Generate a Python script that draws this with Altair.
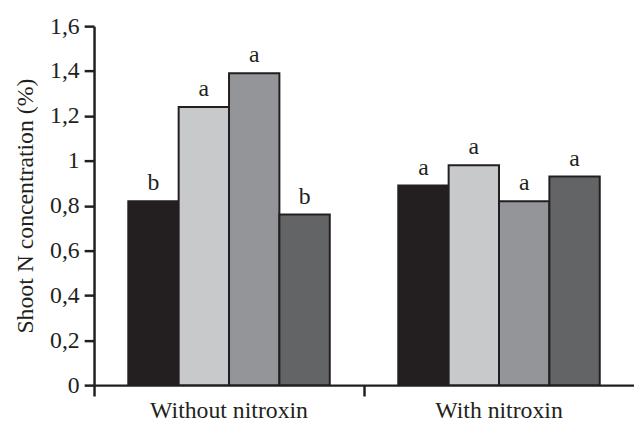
import altair as alt
import pandas as pd

groups = ["Without nitroxin", "With nitroxin"]
treatments = ["T1", "T2", "T3", "T4"]
values_without = [0.82, 1.24, 1.39, 0.76]
values_with = [0.89, 0.98, 0.82, 0.93]
letters_without = ["b", "a", "a", "b"]
letters_with = ["a", "a", "a", "a"]
colors = ["#231f20", "#c8c9cb", "#939598", "#636466"]
y_ticks = [0, 0.2, 0.4, 0.6, 0.8, 1.0, 1.2, 1.4, 1.6]

rows = []
for g, vals, lets in [(groups[0], values_without, letters_without),
                      (groups[1], values_with, letters_with)]:
    for t, v, l in zip(treatments, vals, lets):
        rows.append({"group": g, "treatment": t, "value": v, "letter": l})
df = pd.DataFrame(rows)

FONT = "Liberation Serif"
INK = "#231f20"
FS = 24

x = alt.X("group:N", sort=groups, title=None,
          scale=alt.Scale(paddingInner=0, paddingOuter=0),
          axis=alt.Axis(bandPosition=0, labelAngle=0,
                        domainColor=INK, domainWidth=2.5, tickColor=INK,
                        tickWidth=2.5, tickSize=11, labelFont=FONT,
                        labelFontSize=FS, labelColor=INK, labelPadding=3))
xo = alt.XOffset("treatment:N", sort=treatments,
                 scale=alt.Scale(paddingInner=0, paddingOuter=0.68))
y = alt.Y("value:Q", title="Shoot N concentration (%)",
          scale=alt.Scale(domain=[0, 1.6], nice=False),
          axis=alt.Axis(values=y_ticks, grid=False,
                        labelExpr="replace(format(datum.value, '~g'), '.', ',')",
                        domainColor=INK, domainWidth=2.5, tickColor=INK,
                        tickWidth=2.5, tickSize=10, labelFont=FONT,
                        labelFontSize=FS, labelColor=INK, labelPadding=5,
                        titleFont=FONT, titleFontSize=FS, titleFontWeight="normal",
                        titleColor=INK, titlePadding=12))

bars = alt.Chart(df).mark_bar(stroke=INK, strokeWidth=2).encode(
    x=x, xOffset=xo, y=y,
    color=alt.Color("treatment:N", sort=treatments,
                    scale=alt.Scale(domain=treatments, range=colors), legend=None),
)
text = alt.Chart(df).mark_text(baseline="alphabetic", dy=-11, font=FONT,
                               fontSize=FS, color=INK).encode(
    x=x, xOffset=xo, y=y, text="letter:N")

chart = (bars + text).properties(
    width=546, height=363,
    autosize=alt.AutoSizeParams(type="none"),
    padding={"left": 87, "top": 16, "right": 0, "bottom": 40},
).configure_view(stroke=None)

chart.save("out.html", embed_options={"renderer": "svg", "actions": False})
